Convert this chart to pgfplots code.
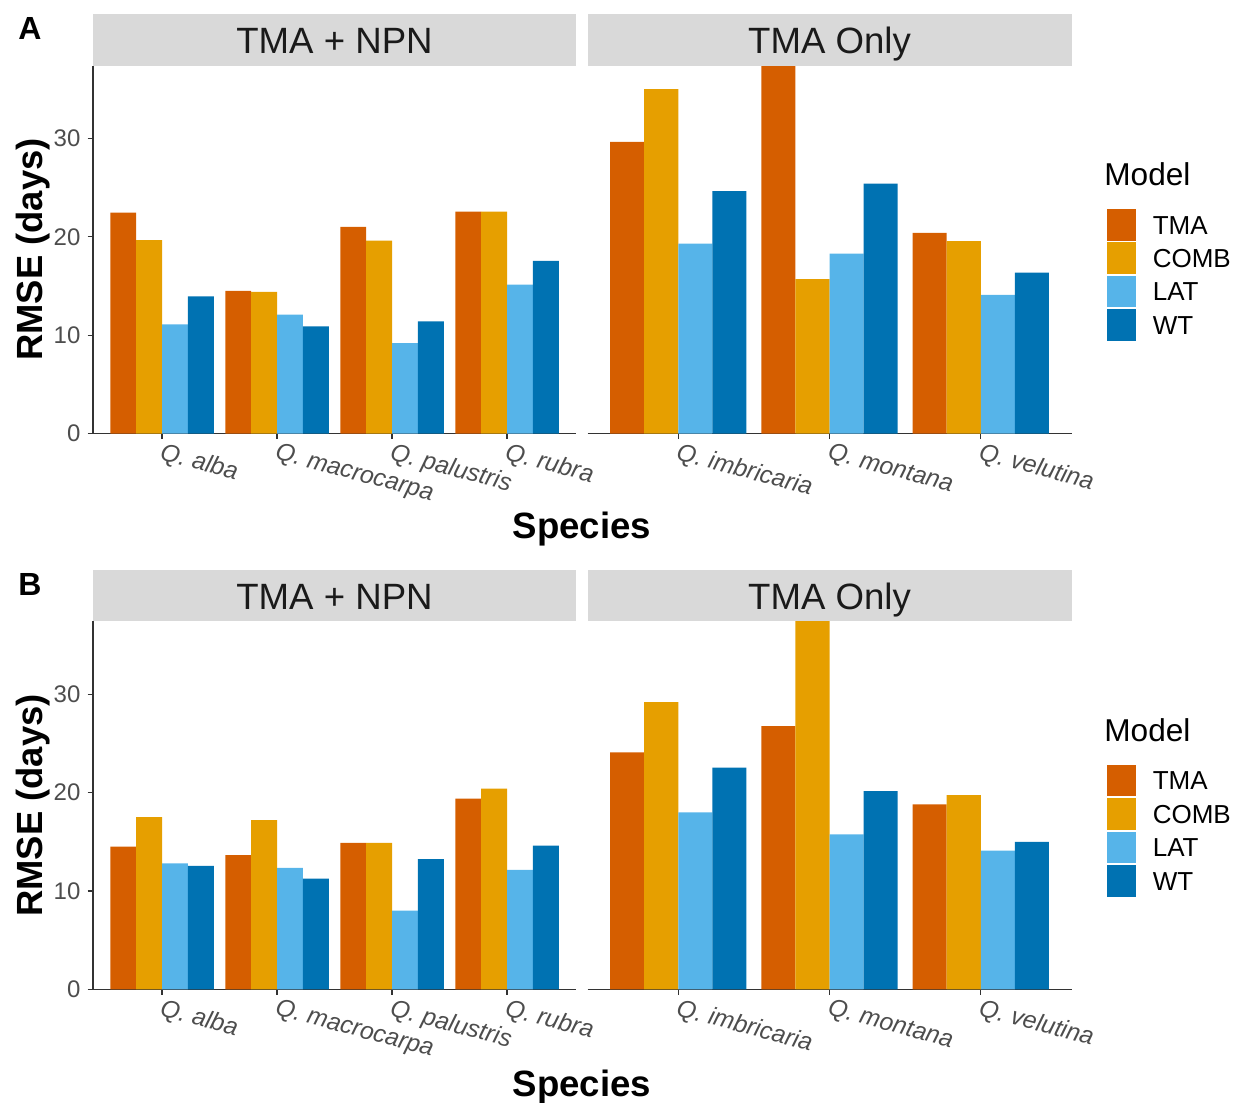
\documentclass[border=0pt]{standalone}
\usepackage{pgfplots}
\pgfplotsset{compat=1.18}
\usepackage{pgfplotstable}
\usepackage{fontspec}
\setmainfont{Liberation Sans}

\definecolor{cTMA}{HTML}{D55E00}
\definecolor{cCOMB}{HTML}{E69F00}
\definecolor{cLAT}{HTML}{56B4E9}
\definecolor{cWT}{HTML}{0072B2}
\definecolor{stripbg}{HTML}{D9D9D9}
\definecolor{ticktxt}{HTML}{4D4D4D}
\definecolor{axln}{HTML}{333333}
\definecolor{striptxt}{HTML}{1A1A1A}

% Panel A
\pgfplotstableread{
x TMA COMB LAT WT
0 22.45 19.65 11.10 13.95
1 14.50 14.40 12.10 10.90
2 21.00 19.60 9.20 11.40
3 22.55 22.55 15.15 17.55
}\Aleft
\pgfplotstableread{
x TMA COMB LAT WT
0 29.65 35.00 19.30 24.65
1 41.00 15.70 18.30 25.40
2 20.40 19.55 14.10 16.35
}\Aright
% Panel B
\pgfplotstableread{
x TMA COMB LAT WT
0 14.50 17.50 12.80 12.55
1 13.65 17.20 12.35 11.25
2 14.90 14.90 8.00 13.25
3 19.40 20.40 12.15 14.60
}\Bleft
\pgfplotstableread{
x TMA COMB LAT WT
0 24.10 29.20 18.00 22.55
1 26.75 39.00 15.75 20.15
2 18.80 19.75 14.10 15.00
}\Bright

\pgfplotsset{
 facet/.style={
  scale only axis, height=184pt,
  ymin=0, ymax=37.4,
  ytick={0,10,20,30},
  ybar=0pt, bar width=0.225,
  enlargelimits=false,
  tick align=outside,
  major tick length=2.75pt,
  tick style={axln, line width=0.6pt},
  axis line style={axln, line width=0.6pt},
  tick label style={font=\fontsize{12}{14}\selectfont, text=ticktxt},
  /pgf/number format/assume math mode=true,
  x tick label style={font=\fontsize{12.3}{14}\selectfont\itshape, rotate=-15, anchor=north west, inner sep=1pt},
 },
 leftfacet/.style={facet, width=241.5pt, xmin=-0.6, xmax=3.6, xtick={0,1,2,3},
  xticklabels={Q. alba, Q. macrocarpa, Q. palustris, Q. rubra},
  axis lines*=left,
  ylabel={RMSE (days)},
  ylabel style={at={(axis description cs:-0.125,0.5)}, anchor=center, font=\fontsize{18.2}{20}\selectfont\bfseries},
 },
 rightfacet/.style={facet, width=242pt, xmin=-0.6, xmax=2.6, xtick={0,1,2},
  xticklabels={Q. imbricaria, Q. montana, Q. velutina},
  axis x line*=bottom, axis y line=none, ytick=\empty,
  legend style={at={(axis description cs:1.0697,0.6139)}, anchor=north west, draw=none, fill=none,
    inner sep=0pt, row sep=0pt, column sep=0pt, font=\fontsize{13}{15}\selectfont,
    cells={anchor=base west}, nodes={inner sep=0pt, text height=12.8pt, text depth=3.5pt}},
  legend image code/.code={\path[#1, draw=white, line width=0.4pt] (0pt,-3.5pt) rectangle (15.4pt,12.8pt);},
 },
}

\newcommand{\bars}[1]{%
  \addplot[fill=cTMA, draw=none, bar shift=-0.3375] table[x=x,y=TMA]{#1};
  \addplot[fill=cCOMB, draw=none, bar shift=-0.1125] table[x=x,y=COMB]{#1};
  \addplot[fill=cLAT, draw=none, bar shift=0.1125] table[x=x,y=LAT]{#1};
  \addplot[fill=cWT, draw=none, bar shift=0.3375] table[x=x,y=WT]{#1};
}

\begin{document}
\begin{tikzpicture}
\useasboundingbox (0,0) rectangle (616.5pt,551.5pt);

% ---------- Panel A ----------
\begin{axis}[leftfacet, at={(46.5pt,334.7pt)}, anchor=south west]
\bars{\Aleft}
\end{axis}
\begin{axis}[rightfacet, at={(293.75pt,334.7pt)}, anchor=south west]
\bars{\Aright}
\legend{\hspace{7.8pt}TMA,\hspace{7.8pt}COMB,\hspace{7.8pt}LAT,\hspace{7.8pt}WT}
\end{axis}

% ---------- Panel B ----------
\begin{axis}[leftfacet, at={(46.5pt,56.8pt)}, anchor=south west]
\bars{\Bleft}
\end{axis}
\begin{axis}[rightfacet, at={(293.75pt,56.8pt)}, anchor=south west]
\bars{\Bright}
\legend{\hspace{7.8pt}TMA,\hspace{7.8pt}COMB,\hspace{7.8pt}LAT,\hspace{7.8pt}WT}
\end{axis}

% strips
\fill[stripbg] (46.5pt,518.7pt) rectangle (288pt,544.4pt);
\fill[stripbg] (293.75pt,518.7pt) rectangle (535.75pt,544.4pt);
\fill[stripbg] (46.5pt,240.8pt) rectangle (288pt,266.3pt);
\fill[stripbg] (293.75pt,240.8pt) rectangle (535.75pt,266.3pt);
\begin{scope}[every node/.style={anchor=base, text=striptxt, font=\fontsize{18.3}{20}\selectfont}]
\node at (167.25pt,524.7pt) {TMA + NPN};
\node at (414.75pt,524.7pt) {TMA Only};
\node at (167.25pt,246.8pt) {TMA + NPN};
\node at (414.75pt,246.8pt) {TMA Only};
\end{scope}

% legend titles
\node[anchor=base west, inner sep=0pt, font=\fontsize{15.8}{18}\selectfont] at (552pt,458.5pt) {Model};
\node[anchor=base west, inner sep=0pt, font=\fontsize{15.8}{18}\selectfont] at (552pt,180.5pt) {Model};

% x axis titles
\node[anchor=base, font=\fontsize{18.3}{20}\selectfont\bfseries] at (291pt,282pt) {Species};
\node[anchor=base, font=\fontsize{18.3}{20}\selectfont\bfseries] at (291pt,3pt) {Species};

% panel tags
\node[anchor=base west, inner sep=0pt, font=\fontsize{16}{18}\selectfont\bfseries] at (9pt,531.5pt) {A};
\node[anchor=base west, inner sep=0pt, font=\fontsize{16}{18}\selectfont\bfseries] at (9pt,253.5pt) {B};
\end{tikzpicture}
\end{document}
